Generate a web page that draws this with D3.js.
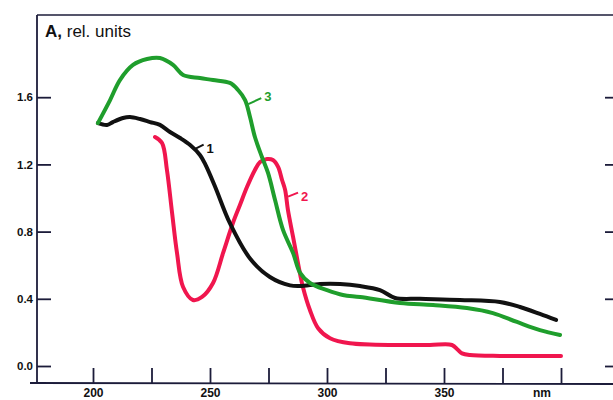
<!DOCTYPE html>
<html>
<head>
<meta charset="utf-8">
<script src="https://cdn.jsdelivr.net/npm/d3@7"></script>
<style>
  html, body { margin: 0; padding: 0; background: #fff; }
  svg { display: block; font-family: "Liberation Sans", Arial, sans-serif; }
</style>
</head>
<body>
<svg id="chart" width="613" height="400"></svg>
<script>
// Absorption spectra, wavelength in nm vs absorbance (rel. units)
const wl1 = [202.1, 206, 208.5, 212.8, 215.8, 220.1, 224.4, 228.6, 232.9, 237.2, 241.5, 245.7, 248, 252.1, 258.5, 267.1, 275.6, 284.2, 288.5, 297, 305.6, 314.1, 322.6, 329.1, 339.7, 356.8, 373.9, 382.5, 391, 397.9];
const abs1 = [1.446, 1.435, 1.452, 1.476, 1.482, 1.47, 1.452, 1.435, 1.393, 1.357, 1.315, 1.256, 1.20, 1.07, 0.85, 0.64, 0.53, 0.48, 0.476, 0.488, 0.488, 0.476, 0.452, 0.405, 0.40, 0.393, 0.381, 0.351, 0.310, 0.274];

const wl2 = [226.5, 229.5, 231.6, 233.8, 235.9, 238.5, 242.7, 246.6, 251.3, 255.6, 259.8, 262.8, 265.8, 269.2, 271.4, 274.4, 276.9, 279.1, 280.8, 282.1, 283.3, 285.5, 287.6, 289.7, 292.7, 296.2, 301.3, 309.8, 331.2, 344, 353.4, 356, 357.7, 361.1, 373.9, 386.8, 400];
const abs2 = [1.363, 1.327, 1.167, 0.911, 0.673, 0.47, 0.393, 0.411, 0.494, 0.673, 0.851, 0.958, 1.065, 1.167, 1.214, 1.232, 1.226, 1.185, 1.107, 1.048, 0.929, 0.768, 0.613, 0.47, 0.333, 0.225, 0.165, 0.135, 0.125, 0.125, 0.125, 0.095, 0.075, 0.065, 0.06, 0.06, 0.06];

const wl3 = [202.1, 207.3, 211.5, 217.1, 223.1, 228.6, 234.2, 238.5, 245.7, 251.3, 258.5, 262, 265, 267.1, 269.2, 272.2, 274.8, 277.8, 281.2, 285.5, 288.5, 292.7, 300, 306.8, 314.1, 331.2, 345.3, 359.8, 370.9, 381.2, 391, 399.6];
const abs3 = [1.446, 1.583, 1.702, 1.792, 1.827, 1.833, 1.792, 1.732, 1.714, 1.702, 1.685, 1.643, 1.583, 1.482, 1.363, 1.244, 1.149, 0.988, 0.81, 0.673, 0.554, 0.494, 0.452, 0.423, 0.411, 0.375, 0.363, 0.345, 0.315, 0.262, 0.214, 0.185];

const seriesNames = ["1", "2", "3"];
const seriesColors = ["#111111", "#f0164e", "#1f9e2c"];

const yTicks = [0.0, 0.4, 0.8, 1.2, 1.6];
const xTicks = [200, 225, 250, 275, 300, 325, 350, 375, 400];
const xLabels = {200: "200", 250: "250", 300: "300", 350: "350"};
const xUnit = "nm";

const svg = d3.select("#chart");
const axisColor = "#1c1c3a";

const x = d3.scaleLinear().domain([200, 400]).range([93, 561]);
const y = d3.scaleLinear().domain([0, 1.6]).range([366, 97.2]);

// frame: top border, left and bottom axis lines
svg.append("line").attr("x1", 37).attr("x2", 613).attr("y1", 15).attr("y2", 15)
  .attr("stroke", axisColor).attr("stroke-width", 1.6);
svg.append("line").attr("x1", 37).attr("x2", 37).attr("y1", 15).attr("y2", 384)
  .attr("stroke", axisColor).attr("stroke-width", 1.8);
svg.append("line").attr("x1", 30).attr("x2", 613).attr("y1", 383).attr("y2", 384)
  .attr("stroke", axisColor).attr("stroke-width", 1.8);

// left axis
const yAxis = d3.axisLeft(y).tickValues(yTicks).tickSize(-14).tickPadding(4)
  .tickFormat(d3.format(".1f"));
const gy = svg.append("g").attr("transform", "translate(37,0)").call(yAxis);
gy.select(".domain").remove();
gy.selectAll(".tick line").attr("stroke", axisColor).attr("stroke-width", 1.8);
gy.selectAll(".tick text").attr("fill", "#111").style("font-size", "11.5px").style("font-weight", "bold");

// right-hand ticks
const gyr = svg.append("g").attr("transform", "translate(613,0)")
  .call(d3.axisLeft(y).tickValues(yTicks).tickSize(8).tickFormat(""));
gyr.select(".domain").remove();
gyr.selectAll(".tick line").attr("stroke", axisColor).attr("stroke-width", 1.8);

// bottom axis
const xAxis = d3.axisBottom(x).tickValues(xTicks).tickSize(-15).tickPadding(5)
  .tickFormat(d => xLabels[d] || "");
const gx = svg.append("g").attr("transform", "translate(0,383)").call(xAxis);
gx.select(".domain").remove();
gx.selectAll(".tick line").attr("stroke", axisColor).attr("stroke-width", 1.8);
gx.selectAll(".tick text").attr("fill", "#111").style("font-size", "12px").style("font-weight", "bold");

svg.append("text").attr("x", 542).attr("y", 397).attr("text-anchor", "middle")
  .attr("fill", "#111").style("font-size", "12px").style("font-weight", "bold").text(xUnit);

// axis title
const title = svg.append("text").attr("x", 45).attr("y", 37).attr("fill", "#111").style("font-size", "17px");
title.append("tspan").style("font-weight", "bold").text("A,");
title.append("tspan").text(" rel. units");

// spectra
const line = d3.line().x(d => x(d[0])).y(d => y(d[1])).curve(d3.curveCatmullRom.alpha(0.5));
const series = [
  d3.zip(wl1, abs1),
  d3.zip(wl2, abs2),
  d3.zip(wl3, abs3)
];
// draw 2, 1, then 3 on top
[1, 0, 2].forEach(i => {
  svg.append("path").datum(series[i]).attr("d", line)
    .attr("fill", "none").attr("stroke", seriesColors[i])
    .attr("stroke-width", 4).attr("stroke-linecap", "round").attr("stroke-linejoin", "round");
});

// curve labels with leader lines
const labelSpecs = [
  {i: 0, at: 243, dx: 8, dy: -4, lx: 11, ly: 4},
  {i: 1, at: 282.5, dx: 10, dy: -4, lx: 13, ly: 4},
  {i: 2, at: 265.5, dx: 13, dy: -6, lx: 16, ly: -3}
];
labelSpecs.forEach(s => {
  const pts = series[s.i];
  // curve height at the chosen wavelength
  let k = pts.findIndex(p => p[0] >= s.at);
  const p0 = pts[k - 1], p1 = pts[k];
  const t = (s.at - p0[0]) / (p1[0] - p0[0]);
  const v = p0[1] + t * (p1[1] - p0[1]);
  const px = x(s.at) + 2, py = y(v);
  svg.append("line").attr("x1", px).attr("y1", py).attr("x2", px + s.dx).attr("y2", py + s.dy)
    .attr("stroke", seriesColors[s.i]).attr("stroke-width", 2);
  svg.append("text").attr("x", px + s.lx).attr("y", py + s.ly)
    .attr("fill", seriesColors[s.i]).style("font-size", "13px").style("font-weight", "bold")
    .text(seriesNames[s.i]);
});
</script>
</body>
</html>
